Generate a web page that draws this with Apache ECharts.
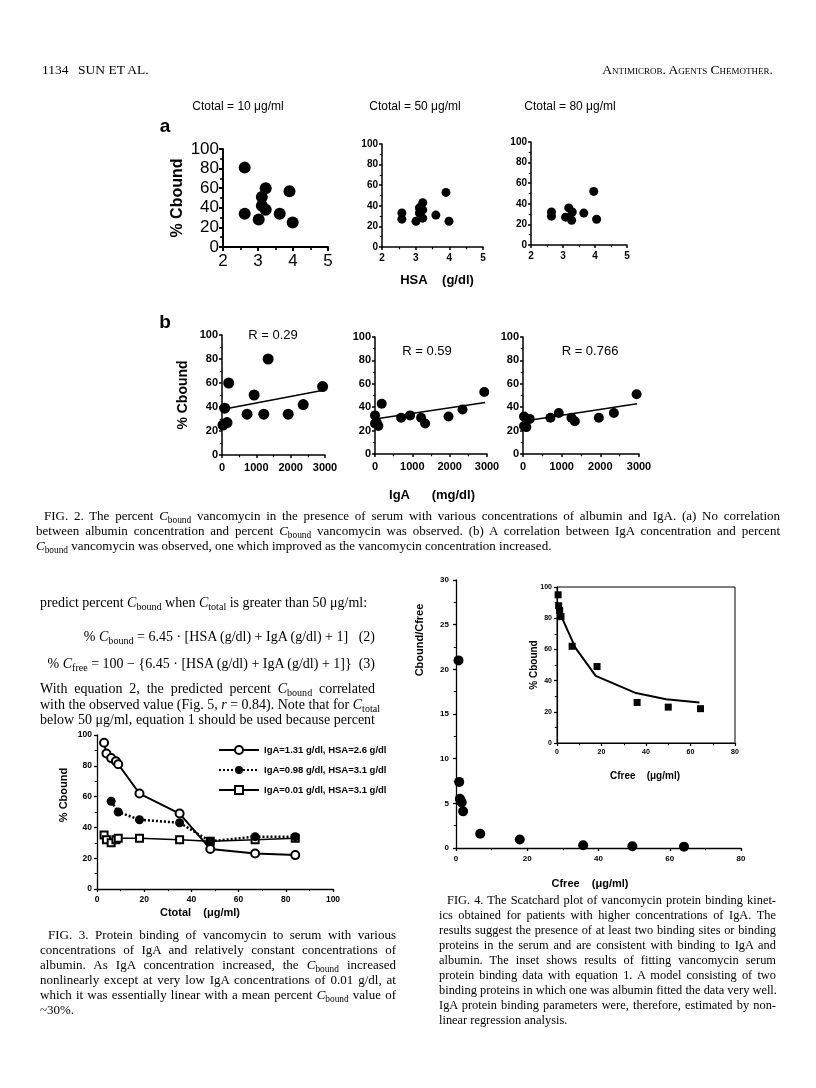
<!DOCTYPE html>
<html><head><meta charset="utf-8">
<script src="https://cdn.jsdelivr.net/npm/echarts@6/dist/echarts.min.js"></script>
<style>
html,body{margin:0;padding:0;background:#fff;}
#c{position:absolute;left:0;top:0;width:816px;height:1088px;}
.t{position:absolute;font-family:'Liberation Serif','Times New Roman',serif;font-size:13px;color:#000;white-space:nowrap;line-height:15px;}
.j{text-align:justify;text-align-last:justify;}
.sc{font-variant:small-caps;}
sub{font-size:72%;vertical-align:-0.3em;line-height:0;}
</style></head><body>
<div id="c"></div>

<div class="t" style="left:42px;top:62px;font-size:13.5px;">1134</div>
<div class="t" style="left:78px;top:62px;font-size:13.5px;">SUN ET AL.</div>
<div class="t sc" style="left:540px;top:62px;width:233px;text-align:right;font-size:13.5px;">Antimicrob. Agents Chemother.</div>

<div class="t j" style="left:44px;top:508px;width:736px;">FIG. 2. The percent <i>C</i><sub>bound</sub> vancomycin in the presence of serum with various concentrations of albumin and IgA. (a) No correlation</div>
<div class="t j" style="left:36px;top:523px;width:744px;">between albumin concentration and percent <i>C</i><sub>bound</sub> vancomycin was observed. (b) A correlation between IgA concentration and percent</div>
<div class="t" style="left:36px;top:538px;"><i>C</i><sub>bound</sub> vancomycin was observed, one which improved as the vancomycin concentration increased.</div>

<div class="t" style="left:40px;top:595px;font-size:14px;">predict percent <i>C</i><sub>bound</sub> when <i>C</i><sub>total</sub> is greater than 50 μg/ml:</div>
<div class="t" style="left:60px;top:629px;width:315px;text-align:right;font-size:14px;">% <i>C</i><sub>bound</sub> = 6.45 · [HSA (g/dl) + IgA (g/dl) + 1]&nbsp;&nbsp;&nbsp;(2)</div>
<div class="t" style="left:30px;top:656px;width:345px;text-align:right;font-size:14px;">% <i>C</i><sub>free</sub> = 100 − {6.45 · [HSA (g/dl) + IgA (g/dl) + 1]}&nbsp;&nbsp;(3)</div>
<div class="t j" style="left:40px;top:681px;width:335px;font-size:14px;">With equation 2, the predicted percent <i>C</i><sub>bound</sub> correlated</div>
<div class="t j" style="left:40px;top:697px;width:335px;font-size:14px;">with the observed value (Fig. 5, <i>r</i> = 0.84). Note that for <i>C</i><sub>total</sub></div>
<div class="t j" style="left:40px;top:712px;width:335px;font-size:14px;">below 50 μg/ml, equation 1 should be used because percent</div>

<div class="t j" style="left:48px;top:927px;width:348px;">FIG. 3. Protein binding of vancomycin to serum with various</div>
<div class="t j" style="left:40px;top:942px;width:356px;">concentrations of IgA and relatively constant concentrations of</div>
<div class="t j" style="left:40px;top:957px;width:356px;">albumin. As IgA concentration increased, the <i>C</i><sub>bound</sub> increased</div>
<div class="t j" style="left:40px;top:972px;width:356px;">nonlinearly except at very low IgA concentrations of 0.01 g/dl, at</div>
<div class="t j" style="left:40px;top:987px;width:356px;">which it was essentially linear with a mean percent <i>C</i><sub>bound</sub> value of</div>
<div class="t" style="left:40px;top:1002px;">~30%.</div>

<div class="t j" style="left:447px;top:893px;width:329px;font-size:12.4px;">FIG. 4. The Scatchard plot of vancomycin protein binding kinet-</div>
<div class="t j" style="left:439px;top:908px;width:337px;font-size:12.4px;">ics obtained for patients with higher concentrations of IgA. The</div>
<div class="t j" style="left:439px;top:923px;width:337px;font-size:12.4px;">results suggest the presence of at least two binding sites or binding</div>
<div class="t j" style="left:439px;top:938px;width:337px;font-size:12.4px;">proteins in the serum and are consistent with binding to IgA and</div>
<div class="t j" style="left:439px;top:953px;width:337px;font-size:12.4px;">albumin. The inset shows results of fitting vancomycin serum</div>
<div class="t j" style="left:439px;top:968px;width:337px;font-size:12.4px;">protein binding data with equation 1. A model consisting of two</div>
<div class="t j" style="left:439px;top:983px;width:337px;font-size:12.4px;">binding proteins in which one was albumin fitted the data very well.</div>
<div class="t j" style="left:439px;top:998px;width:337px;font-size:12.4px;">IgA protein binding parameters were, therefore, estimated by non-</div>
<div class="t" style="left:439px;top:1013px;font-size:12.4px;">linear regression analysis.</div>

<script>
// ---------- DATA ----------
// Fig. 2a: HSA (g/dl) vs % Cbound
const hsa10 = [2.62, 2.62, 3.02, 3.11, 3.11, 3.22, 3.22, 3.62, 3.9, 3.99];
const pctA10 = [81, 34, 28, 51, 42, 60, 38, 34, 57, 25];
const hsa50 = [2.59, 2.59, 3.01, 3.11, 3.11, 3.21, 3.21, 3.21, 3.6, 3.9, 3.99];
const pctA50 = [33, 27, 25, 38, 33, 43, 36, 28, 31, 53, 25];
const hsa80 = [2.64, 2.64, 3.08, 3.18, 3.29, 3.27, 3.65, 3.96, 4.05];
const pctA80 = [32, 28, 27, 36, 32, 24, 31, 52, 25];
// Fig. 2b: IgA (mg/dl) vs % Cbound
const igaB10 = [78, 30, 146, 195, 1344, 935, 730, 1217, 1928, 2366, 2930];
const pctB10 = [39, 25, 27, 60, 80, 50, 34, 34, 34, 42, 57];
const igaB50 = [0, 0, 90, 45, 180, 700, 940, 1235, 1343, 1970, 2345, 2927];
const pctB50 = [33, 26, 24, 27, 43, 31, 33, 31, 26, 32, 38, 53];
const igaB80 = [26, 26, 86, 173, 709, 925, 1253, 1340, 1962, 2350, 2938];
const pctB80 = [32, 24, 23, 30, 31, 35, 31, 28, 31, 35, 51];
const fitIgA = [0, 2950];
const fitB10 = [38, 54];
const fitB50 = [30, 44];
const fitB80 = [28, 43];
const rLabels = ['R = 0.29', 'R = 0.59', 'R = 0.766'];
const titlesA = ['Ctotal = 10 μg/ml', 'Ctotal = 50 μg/ml', 'Ctotal = 80 μg/ml'];
// Fig. 3: Ctotal vs % Cbound
const legend3 = ['IgA=1.31 g/dl, HSA=2.6 g/dl', 'IgA=0.98 g/dl, HSA=3.1 g/dl', 'IgA=0.01 g/dl, HSA=3.1 g/dl'];
const ctot1 = [3, 4, 6, 8, 9, 18, 35, 48, 67, 84];
const pct31 = [95, 88, 85, 83, 81, 62, 49, 26, 23, 22];
const ctot2 = [6, 9, 18, 35, 48, 67, 84];
const pct32 = [57, 50, 45, 43, 31, 34, 34];
const ctot3 = [3, 4, 6, 8, 9, 18, 35, 48, 67, 84];
const pct33 = [35, 32, 30, 32, 33, 33, 32, 31, 32, 33];
// Fig. 4: Scatchard plot
const cfree4 = [0.7, 0.9, 1.1, 1.3, 1.6, 2.0, 6.8, 17.9, 35.7, 49.5, 64];
const ratio4 = [21, 7.4, 5.5, 5.3, 5.1, 4.1, 1.6, 0.95, 0.3, 0.2, 0.15];
// Fig. 4 inset: Cfree vs % Cbound (points and model fit)
const cfreeIn = [0.5, 0.75, 1.2, 1.8, 6.8, 18, 36, 50, 64.5];
const pctIn = [95, 88, 85, 81, 62, 49, 26, 23, 22];
const cfreeFit = [0.3, 2.3, 8.3, 17.4, 35.5, 49, 64];
const pctFit = [89, 80, 61, 43, 32, 28, 26];

// ---------- CHART ----------
const SANS = "'Liberation Sans', Arial, sans-serif";
const zip = (a, b) => a.map((v, i) => [v, b[i]]);
const grids = [], xAxes = [], yAxes = [], series = [];

function addGrid(left, top, width, height, x, y, o) {
  const gi = grids.length;
  grids.push({left, top, width, height, outerBoundsMode: 'none', containLabel: false,
    show: !!o.frame, borderColor: '#000', borderWidth: o.frame ? 1 : 0});
  const line = {show: true, onZero: false, lineStyle: {color: '#000', width: o.lw}};
  const mk = (ax, isX) => ({
    gridIndex: gi, type: 'value', min: ax[0], max: ax[1], interval: ax[2],
    axisLine: line,
    axisTick: {show: true, length: o.tl, lineStyle: {color: '#000', width: o.lw}},
    minorTick: {show: ax[3] > 0, splitNumber: ax[3] || 2, length: o.tl * 0.75, lineStyle: {color: '#000', width: o.lw * 0.8}},
    splitLine: {show: false}, minorSplitLine: {show: false},
    axisLabel: {color: '#000', fontFamily: SANS, fontSize: o.fs, fontWeight: o.fw, margin: isX ? o.mx : o.my,
      showMinLabel: true, showMaxLabel: true, formatter: v => String(v)}
  });
  xAxes.push(mk(x, true));
  yAxes.push(mk(y, false));
  return gi;
}

function scatter(gi, data, size, sym) {
  series.push({type: 'scatter', xAxisIndex: gi, yAxisIndex: gi, data, symbol: sym || 'circle', symbolSize: size,
    itemStyle: {color: '#000', opacity: 1}, silent: true, z: 3});
}
function fitLine(gi, data, w) {
  series.push({type: 'line', xAxisIndex: gi, yAxisIndex: gi, data, showSymbol: false, symbol: 'none',
    lineStyle: {color: '#000', width: w}, silent: true, z: 2});
}

// Fig 2a
const oA1 = {lw: 2, tl: 4, fs: 17, fw: 'normal', mx: 6, my: 4};
const oA = {lw: 1.5, tl: 3, fs: 10, fw: 'bold', mx: 6, my: 4};
const gA1 = addGrid(223, 149, 105, 98, [2, 5, 1, 2], [0, 100, 20, 2], oA1);
const gA2 = addGrid(382, 144, 101, 103, [2, 5, 1, 2], [0, 100, 20, 2], oA);
const gA3 = addGrid(531, 142, 96, 103, [2, 5, 1, 2], [0, 100, 20, 2], oA);
scatter(gA1, zip(hsa10, pctA10), 12);
scatter(gA2, zip(hsa50, pctA50), 9);
scatter(gA3, zip(hsa80, pctA80), 9);

// Fig 2b
const oB = {lw: 1.5, tl: 3, fs: 11, fw: 'bold', mx: 7, my: 4};
const gB1 = addGrid(222, 335, 103, 120, [0, 3000, 1000, 2], [0, 100, 20, 2], oB);
const gB2 = addGrid(375, 337, 112, 117, [0, 3000, 1000, 2], [0, 100, 20, 2], oB);
const gB3 = addGrid(523, 337, 116, 117, [0, 3000, 1000, 2], [0, 100, 20, 2], oB);
fitLine(gB1, zip(fitIgA, fitB10), 1.5);
fitLine(gB2, zip(fitIgA, fitB50), 1.5);
fitLine(gB3, zip(fitIgA, fitB80), 1.5);
scatter(gB1, zip(igaB10, pctB10), 11);
scatter(gB2, zip(igaB50, pctB50), 10);
scatter(gB3, zip(igaB80, pctB80), 10);

// Fig 3
const o3 = {lw: 1.3, tl: 3, fs: 8.5, fw: 'bold', mx: 6, my: 5};
const g3 = addGrid(97, 735, 236, 154, [0, 100, 20, 2], [0, 100, 20, 2], o3);
series.push({name: legend3[0], type: 'line', xAxisIndex: g3, yAxisIndex: g3, data: zip(ctot1, pct31),
  symbol: 'emptyCircle', symbolSize: 8, lineStyle: {color: '#000', width: 2, type: 'solid'},
  itemStyle: {color: '#000', borderColor: '#000', borderWidth: 1.3}, silent: true, z: 4});
series.push({name: legend3[1], type: 'line', xAxisIndex: g3, yAxisIndex: g3, data: zip(ctot2, pct32),
  symbol: 'circle', symbolSize: 9, lineStyle: {color: '#000', width: 2.5, type: [2, 2]},
  itemStyle: {color: '#000'}, silent: true, z: 3});
series.push({name: legend3[2], type: 'line', xAxisIndex: g3, yAxisIndex: g3, data: zip(ctot3, pct33),
  symbol: 'emptyRect', symbolSize: 7, lineStyle: {color: '#000', width: 1.5, type: 'solid'},
  itemStyle: {color: '#000', borderColor: '#000', borderWidth: 1.2}, silent: true, z: 2});

// Fig 4
const o4 = {lw: 1.3, tl: 3, fs: 8, fw: 'bold', mx: 7, my: 7};
const g4 = addGrid(456, 580, 285, 268, [0, 80, 20, 2], [0, 30, 5, 2], o4);
scatter(g4, zip(cfree4, ratio4), 10);
const o4i = {lw: 1.2, tl: 3, fs: 7, fw: 'bold', mx: 6, my: 5, frame: true};
const g4i = addGrid(557, 587, 178, 156, [0, 80, 20, 2], [0, 100, 20, 2], o4i);
fitLine(g4i, zip(cfreeFit, pctFit), 2);
scatter(g4i, zip(cfreeIn, pctIn), 7, 'rect');

function txt(x, y, text, size, o) {
  o = o || {};
  return {type: 'text', x, y, rotation: o.rot || 0, z: 10,
    style: {text, font: (o.w || 'bold') + ' ' + size + 'px ' + (o.f || SANS), fill: '#000',
      textAlign: o.align || 'center', textVerticalAlign: 'middle', align: o.align || 'center', verticalAlign: 'middle'}};
}
const R = Math.PI / 2;
const graphics = [
  txt(238, 107, titlesA[0], 12, {w: 'normal'}),
  txt(415, 107, titlesA[1], 12, {w: 'normal'}),
  txt(570, 107, titlesA[2], 12, {w: 'normal'}),
  txt(165, 127, 'a', 19),
  txt(165, 323, 'b', 19),
  txt(178, 198, '% Cbound', 16, {rot: R}),
  txt(437, 280, 'HSA    (g/dl)', 13),
  txt(183, 395, '% Cbound', 14, {rot: R}),
  txt(273, 335, rLabels[0], 13, {w: 'normal'}),
  txt(427, 351, rLabels[1], 13, {w: 'normal'}),
  txt(590, 351, rLabels[2], 13, {w: 'normal'}),
  txt(432, 495, 'IgA      (mg/dl)', 13),
  txt(64, 795, '% Cbound', 11, {rot: R}),
  txt(200, 913, 'Ctotal    (μg/ml)', 11),
  txt(420, 640, 'Cbound/Cfree', 11, {rot: R}),
  txt(590, 884, 'Cfree    (μg/ml)', 11),
  txt(534, 665, '% Cbound', 10, {rot: R}),
  txt(645, 776, 'Cfree    (μg/ml)', 10)
];

const chart = echarts.init(document.getElementById('c'), null, {renderer: 'canvas'});
chart.setOption({
  animation: false,
  backgroundColor: '#fff',
  grid: grids, xAxis: xAxes, yAxis: yAxes, series,
  legend: {data: legend3, orient: 'vertical', left: 213, top: 740, itemWidth: 40, itemHeight: 10, itemGap: 10,
    textStyle: {fontFamily: SANS, fontWeight: 'bold', fontSize: 9.5, color: '#000'}, selectedMode: false},
  graphic: graphics
});
</script>
</body></html>
